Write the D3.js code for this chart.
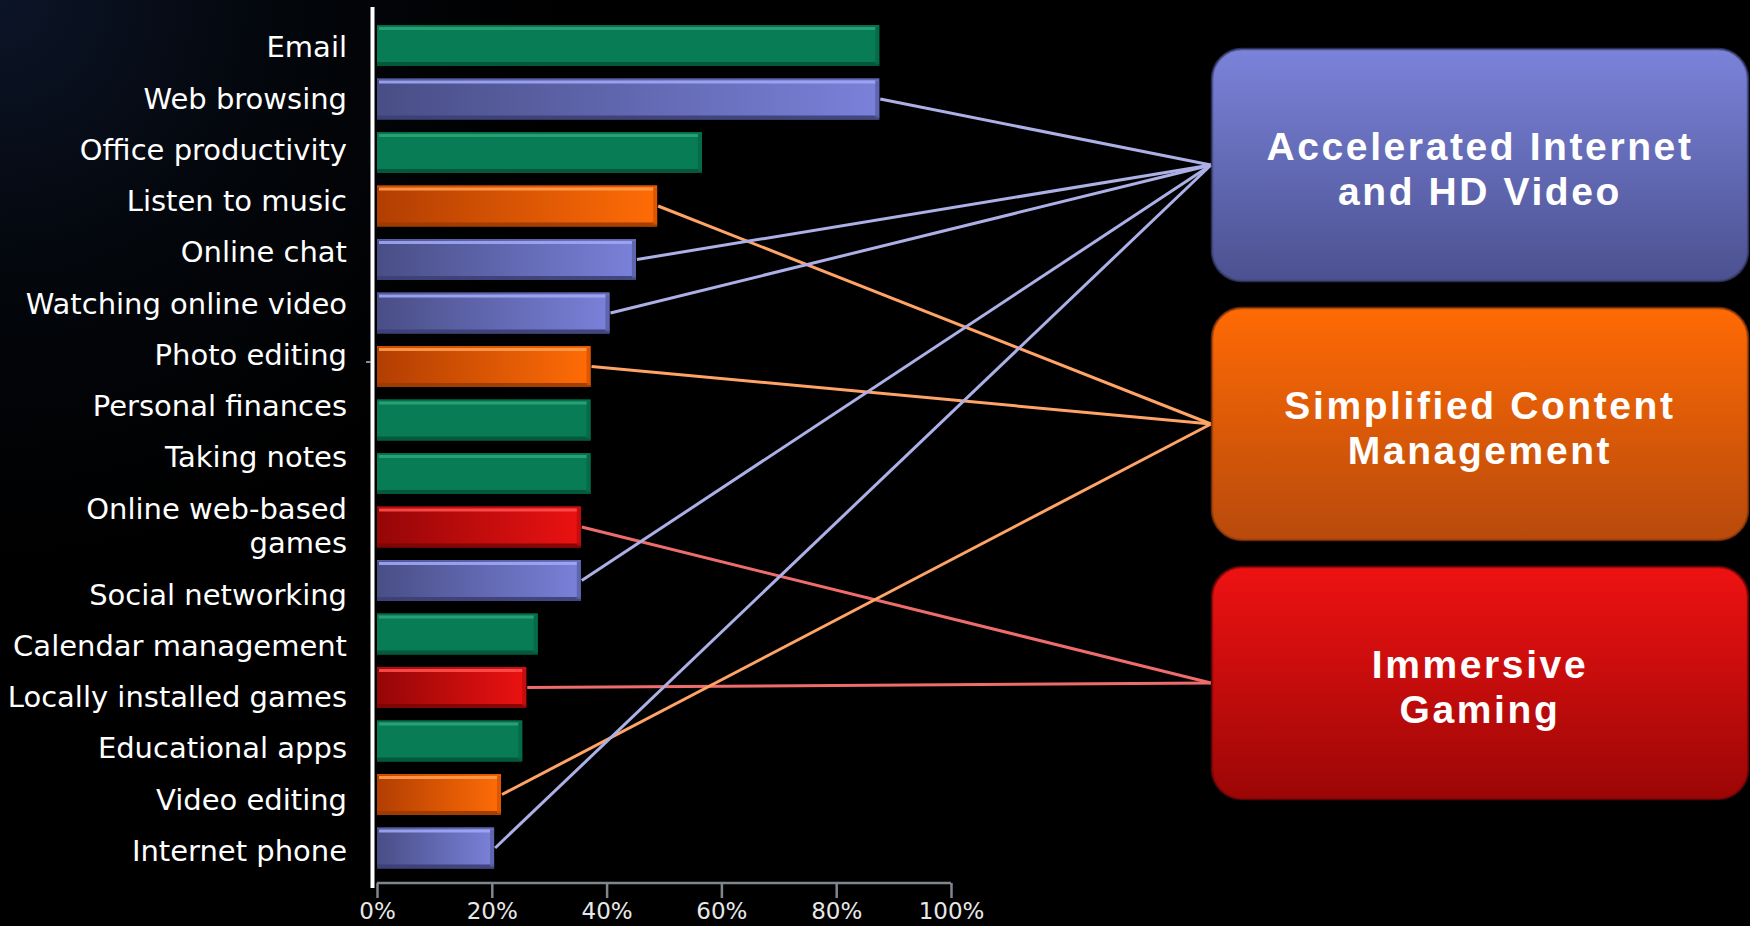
<!DOCTYPE html>
<html>
<head>
<meta charset="utf-8">
<script src="https://cdn.jsdelivr.net/npm/d3@7"></script>
<style>
  html, body { margin: 0; padding: 0; background: #000; overflow: hidden; }
  svg { display: block; }
</style>
</head>
<body>
<svg id="chart" width="1750" height="926"></svg>
<script>
// Activities and the share of users doing them
const activities = [
  "Email", "Web browsing", "Office productivity", "Listen to music", "Online chat",
  "Watching online video", "Photo editing", "Personal finances", "Taking notes",
  "Online web-based\ngames", "Social networking", "Calendar management",
  "Locally installed games", "Educational apps", "Video editing", "Internet phone"
];
const shares = [0.875, 0.875, 0.566, 0.488, 0.451, 0.405, 0.372, 0.372, 0.372,
                0.355, 0.355, 0.28, 0.26, 0.253, 0.216, 0.204];
// Which usage model each activity feeds ("general" = no link)
const activityGroup = ["general", "internet", "general", "content", "internet", "internet",
  "content", "general", "general", "gaming", "internet", "general", "gaming",
  "general", "content", "internet"];
// Usage models shown on the right
const modelKeys = ["internet", "content", "gaming"];
const modelTitles = [["Accelerated Internet", "and HD Video"], ["Simplified Content", "Management"], ["Immersive", "Gaming"]];
const tickValues = [0, 0.2, 0.4, 0.6, 0.8, 1.0];

const palette = {
  general:  { left: "#077c55", right: "#077c55", top: "#2ea478", bottom: "#04553a", edge: "#056a47", link: null },
  internet: { left: "#494e86", right: "#7a81d9", top: "#a0a6f4", bottom: "#3b4076", edge: "#5a60a8", link: "#acb0e6" },
  content:  { left: "#b23e02", right: "#ff6c06", top: "#ff9c4c", bottom: "#9c3a00", edge: "#d85400", link: "#ffa466" },
  gaming:   { left: "#950607", right: "#ec1212", top: "#ff4e4e", bottom: "#7c0606", edge: "#c00c0c", link: "#ee6c6c" }
};
const boxFill = {
  internet: ["#7b83da", "#4b5190"],
  content:  ["#ff6a04", "#b84a0c"],
  gaming:   ["#ee1212", "#9c0606"]
};

const svg = d3.select("#chart");
const W = 1750, H = 926;
const defs = svg.append("defs");

// Background: black with a faint navy glow at the upper left
const bg = defs.append("radialGradient").attr("id", "bg")
  .attr("gradientUnits", "userSpaceOnUse").attr("cx", 0).attr("cy", 0).attr("r", 560);
bg.append("stop").attr("offset", 0).attr("stop-color", "#0c1528");
bg.append("stop").attr("offset", 0.5).attr("stop-color", "#03060b");
bg.append("stop").attr("offset", 1).attr("stop-color", "#000");
svg.append("rect").attr("width", W).attr("height", H).attr("fill", "url(#bg)");

// Bar gradients (horizontal) per group
Object.entries(palette).forEach(([k, c]) => {
  const g = defs.append("linearGradient").attr("id", "bar-" + k)
    .attr("x1", 0).attr("x2", 1).attr("y1", 0).attr("y2", 0);
  g.append("stop").attr("offset", 0).attr("stop-color", c.left);
  g.append("stop").attr("offset", 1).attr("stop-color", c.right);
});
// Box gradients (vertical)
Object.entries(boxFill).forEach(([k, c]) => {
  const g = defs.append("linearGradient").attr("id", "box-" + k)
    .attr("x1", 0).attr("x2", 0).attr("y1", 0).attr("y2", 1);
  g.append("stop").attr("offset", 0).attr("stop-color", c[0]);
  g.append("stop").attr("offset", 1).attr("stop-color", c[1]);
});

// Scales
const x = d3.scaleLinear().domain([0, 1]).range([377, 951]);
const y = d3.scaleBand().domain(activities).range([12.5, 881]).padding(0.234);
const bw = y.bandwidth();

// Bars with a bevelled look
const bars = svg.append("g").selectAll("g.bar")
  .data(activities.map((name, i) => ({ name, value: shares[i], group: activityGroup[i] })))
  .join("g").attr("class", "bar");

bars.append("rect")
  .attr("x", x(0)).attr("y", d => y(d.name))
  .attr("width", d => x(d.value) - x(0)).attr("height", bw)
  .attr("fill", d => `url(#bar-${d.group})`);
bars.append("rect")
  .attr("x", x(0)).attr("y", d => y(d.name) + bw - 4)
  .attr("width", d => x(d.value) - x(0)).attr("height", 4)
  .attr("fill", d => palette[d.group].bottom).attr("opacity", 0.9);
bars.append("rect")
  .attr("x", d => x(d.value) - 4).attr("y", d => y(d.name) + 2)
  .attr("width", 4).attr("height", bw - 4)
  .attr("fill", d => palette[d.group].edge).attr("opacity", 0.85);
bars.append("rect")
  .attr("x", x(0) + 2).attr("y", d => y(d.name) + 2)
  .attr("width", d => x(d.value) - x(0) - 6).attr("height", 3)
  .attr("fill", d => palette[d.group].top).attr("opacity", 0.9);
bars.append("rect")
  .attr("x", x(0)).attr("y", d => y(d.name))
  .attr("width", d => x(d.value) - x(0)).attr("height", 1.5)
  .attr("fill", d => palette[d.group].edge).attr("opacity", 0.8);

// Category labels: stacked as a text column; wrapped lines sit closer together
const labels = svg.append("g")
  .attr("font-family", "'DejaVu Sans', Verdana, sans-serif")
  .attr("font-size", 29).attr("fill", "#ffffff").attr("text-anchor", "end");
const lineStep = 51.26, wrapStep = 34.6;
let cursor = y(activities[0]) + bw / 2 + 1.4;
activities.forEach((name, i) => {
  const lines = name.split("\n");
  if (i > 0) cursor += lineStep;
  lines.forEach((ln, j) => {
    if (j > 0) cursor += wrapStep;
    labels.append("text")
      .attr("x", 347)
      .attr("y", cursor)
      .attr("dy", "0.36em")
      .text(ln);
  });
});

// Vertical axis line
svg.append("line")
  .attr("x1", 372.5).attr("x2", 372.5).attr("y1", 7).attr("y2", 888)
  .attr("stroke", "#ffffff").attr("stroke-width", 4);
svg.append("line")
  .attr("x1", 366).attr("x2", 371).attr("y1", y("Photo editing") + 16).attr("y2", y("Photo editing") + 16)
  .attr("stroke", "#bbbbbb").attr("stroke-width", 1.5);

// Horizontal axis
const xAxis = d3.axisBottom(x).tickValues(tickValues).tickFormat(d3.format(".0%"))
  .tickSize(15).tickPadding(5);
const ax = svg.append("g").attr("transform", "translate(0,883)").call(xAxis);
ax.select(".domain").attr("stroke", "#80868e").attr("stroke-width", 2.5)
  .attr("d", `M${x(0)},0H${x(1)}`);
ax.selectAll(".tick line").attr("stroke", "#80868e").attr("stroke-width", 2.5);
ax.selectAll(".tick text").attr("fill", "#e8e8e8")
  .attr("font-family", "'DejaVu Sans', Verdana, sans-serif").attr("font-size", 23);

// Usage-model boxes
const boxY = d3.scaleBand().domain(modelKeys).range([49, 799]).paddingInner(0.104);
const boxX0 = 1212, boxX1 = 1748;
const anchor = k => ({ x: boxX0 - 1, y: boxY(k) + boxY.bandwidth() / 2 });

// Links from bars to their model
const linkG = svg.append("g").attr("fill", "none").attr("stroke-width", 3).attr("stroke-linecap", "butt");
activities.forEach((name, i) => {
  const g = activityGroup[i];
  if (!palette[g].link) return;
  const a = anchor(g);
  linkG.append("line")
    .attr("x1", x(shares[i]) + 1).attr("y1", y(name) + bw / 2)
    .attr("x2", a.x).attr("y2", a.y)
    .attr("stroke", palette[g].link);
});

const boxes = svg.append("g").selectAll("g.box").data(modelKeys).join("g").attr("class", "box");
boxes.append("rect")
  .attr("x", boxX0).attr("y", d => boxY(d))
  .attr("width", boxX1 - boxX0).attr("height", boxY.bandwidth())
  .attr("rx", 30).attr("ry", 30)
  .attr("fill", d => `url(#box-${d})`)
  .attr("stroke", d => d3.color(boxFill[d][1]).darker(0.6))
  .attr("stroke-opacity", 0.7).attr("stroke-width", 2.5);
boxes.each(function (d, i) {
  const g = d3.select(this);
  const cy = boxY(d) + boxY.bandwidth() / 2 + 3;
  const lines = modelTitles[i];
  lines.forEach((ln, j) => {
    g.append("text")
      .attr("x", (boxX0 + boxX1) / 2)
      .attr("y", cy + (j - (lines.length - 1) / 2) * 45)
      .attr("dy", "0.36em")
      .attr("text-anchor", "middle")
      .attr("font-family", "'Liberation Sans', Arial, sans-serif")
      .attr("font-weight", "bold")
      .attr("font-size", 39)
      .attr("letter-spacing", 2.6)
      .attr("fill", "#ffffff")
      .text(ln);
  });
});
</script>
</body>
</html>
